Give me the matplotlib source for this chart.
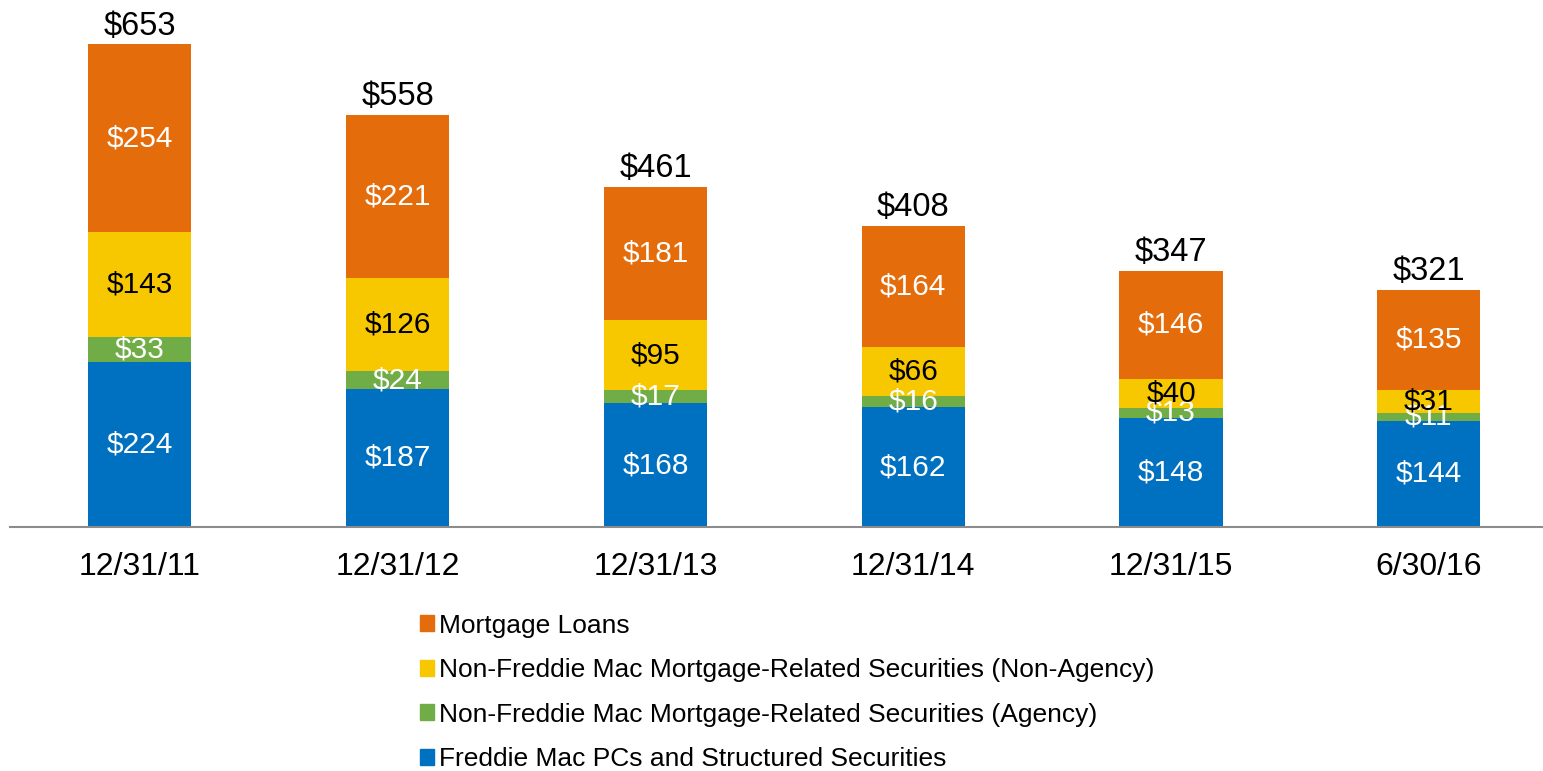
import matplotlib
matplotlib.use("Agg")
import matplotlib.pyplot as plt
import numpy as np
from matplotlib.patches import Patch

plt.rcParams["font.family"] = ["Liberation Sans", "DejaVu Sans"]

DATES = ["12/31/11", "12/31/12", "12/31/13", "12/31/14", "12/31/15", "6/30/16"]
FREDDIE_PCS = [224, 187, 168, 162, 148, 144]
AGENCY = [33, 24, 17, 16, 13, 11]
NON_AGENCY = [143, 126, 95, 66, 40, 31]
MORTGAGE_LOANS = [254, 221, 181, 164, 146, 135]
TOTALS = [653, 558, 461, 408, 347, 321]

SERIES = [
    ("Freddie Mac PCs and Structured Securities", FREDDIE_PCS, "#0070C0", "white"),
    ("Non-Freddie Mac Mortgage-Related Securities (Agency)", AGENCY, "#70AD47", "white"),
    ("Non-Freddie Mac Mortgage-Related Securities (Non-Agency)", NON_AGENCY, "#F7C700", "black"),
    ("Mortgage Loans", MORTGAGE_LOANS, "#E46C0A", "white"),
]

W, H = 1543, 771
fig = plt.figure(figsize=(W / 100, H / 100), dpi=100)
ax = fig.add_axes([10 / W, (H - 527) / H, 1 - 10 / W, 527 / H])

x = np.arange(len(DATES))
bottom = np.zeros(len(DATES))
for name, vals, color, txt in SERIES:
    vals = np.array(vals, dtype=float)
    ax.bar(x, vals, 0.4, bottom=bottom, color=color, label=name, zorder=2)
    for xi, b, v in zip(x, bottom, vals):
        ax.text(xi, b + v / 2, f"${v:.0f}", ha="center", va="center",
                color=txt, fontsize=21.5, zorder=3)
    bottom += vals

for xi, t in zip(x, TOTALS):
    ax.text(xi, t + 4, f"${t}", ha="center", va="bottom", fontsize=23.5)

ax.set_xlim(-0.504, 5.443)
ax.set_ylim(0, 714)
ax.set_yticks([])
ax.set_xticks(x)
ax.set_xticklabels(DATES, fontsize=23)
ax.tick_params(axis="x", length=0, pad=18)
for s in ["top", "right", "left"]:
    ax.spines[s].set_visible(False)
ax.spines["bottom"].set_color("#8c8c8c")
ax.spines["bottom"].set_linewidth(1.5)

handles = [Patch(color=c, label=n) for n, _, c, _ in reversed(SERIES)]
fig.legend(handles=handles, loc="upper left", bbox_to_anchor=(409 / W, 1 - 603 / H),
           frameon=False, fontsize=19, handlelength=0.55, handleheight=0.55,
           handletextpad=0.2, labelspacing=0.78, borderaxespad=0)

fig.savefig("out.png", dpi=100)
